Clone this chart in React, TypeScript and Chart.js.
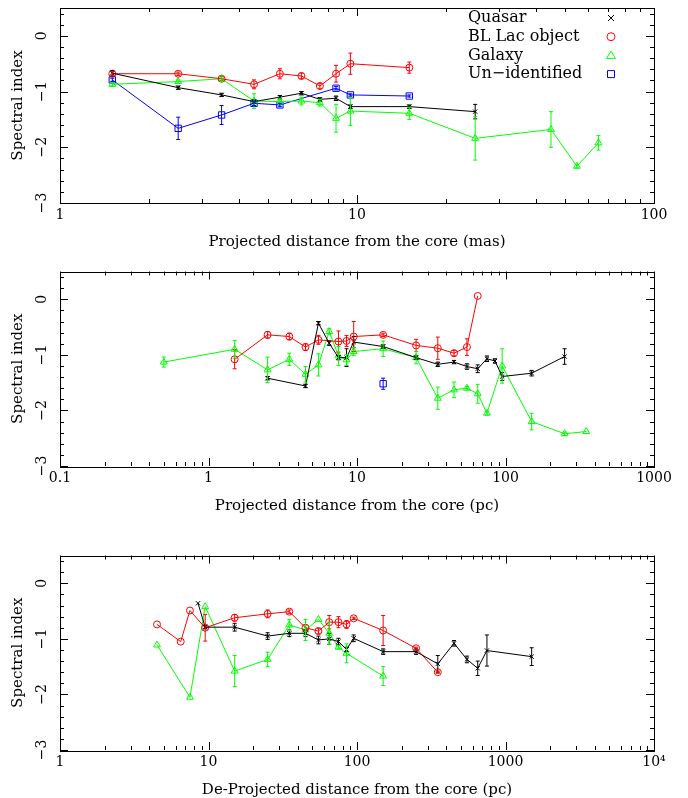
import React, { useEffect, useRef } from "react";
import { Chart, registerables } from "chart.js";

Chart.register(...registerables);

// ---------- Panel 1: projected distance (mas) ----------
const quasarMasX = [1.5, 2.5, 3.5, 4.5, 5.5, 6.5, 7.5, 8.5, 9.5, 15, 25];
const quasarMasY = [-0.67, -0.93, -1.06, -1.18, -1.1, -1.03, -1.14, -1.12, -1.27, -1.27, -1.36];
const quasarMasErr = [0.05, 0.03, 0.03, 0.03, 0.03, 0.03, 0.03, 0.04, 0.03, 0.03, 0.13];

const blLacMasX = [1.5, 2.5, 3.5, 4.5, 5.5, 6.5, 7.5, 8.5, 9.5, 15];
const blLacMasY = [-0.68, -0.68, -0.77, -0.87, -0.68, -0.72, -0.9, -0.68, -0.5, -0.57];
const blLacMasErr = [0.04, 0.03, 0.04, 0.08, 0.09, 0.05, 0.05, 0.15, 0.19, 0.1];

const galaxyMasX = [1.5, 2.5, 3.5, 4.5, 5.5, 6.5, 7.5, 8.5, 9.5, 15, 25, 45, 55, 65];
const galaxyMasY = [-0.87, -0.82, -0.77, -1.17, -1.18, -1.17, -1.2, -1.48, -1.35, -1.39, -1.84, -1.68, -2.34, -1.92];
const galaxyMasErr = [0.03, 0.03, 0.05, 0.13, 0.06, 0.07, 0.06, 0.25, 0.26, 0.11, 0.39, 0.32, 0.03, 0.13];

const unidMasX = [1.5, 2.5, 3.5, 4.5, 5.5, 8.5, 9.5, 15];
const unidMasY = [-0.79, -1.66, -1.42, -1.21, -1.24, -0.94, -1.06, -1.08];
const unidMasErr = [0.03, 0.2, 0.17, 0.04, 0.03, 0.03, 0.02, 0.02];

// ---------- Panel 2: projected distance (pc) ----------
const quasarPcX = [2.5, 4.5, 5.5, 6.5, 7.5, 8.5, 9.5, 15, 25, 35, 45, 55, 65, 75, 85, 95, 150, 250];
const quasarPcY = [-1.42, -1.56, -0.43, -0.79, -1.05, -1.05, -0.77, -0.85, -1.05, -1.17, -1.13, -1.21, -1.25, -1.07, -1.11, -1.39, -1.33, -1.03];
const quasarPcErr = [0.03, 0.03, 0.03, 0.04, 0.04, 0.16, 0.1, 0.03, 0.03, 0.04, 0.03, 0.05, 0.07, 0.05, 0.04, 0.07, 0.05, 0.14];

const blLacPcX = [1.5, 2.5, 3.5, 4.5, 5.5, 7.5, 8.5, 9.5, 15, 25, 35, 45, 55, 65];
const blLacPcY = [-1.08, -0.64, -0.67, -0.86, -0.73, -0.76, -0.75, -0.67, -0.64, -0.83, -0.88, -0.97, -0.86, 0.06];
const blLacPcErr = [0.17, 0.06, 0.06, 0.06, 0.08, 0.19, 0.1, 0.27, 0.03, 0.11, 0.2, 0.05, 0.15, 0];

const galaxyPcX = [0.5, 1.5, 2.5, 3.5, 4.5, 5.5, 6.5, 7.5, 8.5, 9.5, 15, 25, 35, 45, 55, 65, 75, 95, 150, 250, 350];
const galaxyPcY = [-1.13, -0.9, -1.27, -1.08, -1.35, -1.18, -0.58, -1.02, -1.09, -0.94, -0.89, -1.05, -1.78, -1.63, -1.6, -1.7, -2.05, -1.2, -2.2, -2.42, -2.38];
const galaxyPcErr = [0.09, 0.16, 0.23, 0.11, 0.14, 0.2, 0.05, 0.17, 0.1, 0.07, 0.14, 0.11, 0.2, 0.14, 0.03, 0.17, 0.03, 0.31, 0.15, 0.03, 0];

const unidPcX = [15];
const unidPcY = [-1.52];
const unidPcErr = [0.1];

// ---------- Panel 3: de-projected distance (pc) ----------
const quasarDpX = [8.5, 9.5, 15, 25, 35, 45, 55, 65, 75, 85, 95, 150, 250, 350, 450, 550, 650, 750, 1500];
const quasarDpY = [-0.36, -0.79, -0.79, -0.95, -0.9, -0.9, -1.02, -1.0, -1.05, -1.19, -0.99, -1.23, -1.23, -1.45, -1.08, -1.37, -1.53, -1.21, -1.32];
const quasarDpErr = [0, 0.03, 0.07, 0.06, 0.06, 0.06, 0.07, 0.1, 0.06, 0.04, 0.06, 0.05, 0.05, 0.15, 0.05, 0.06, 0.13, 0.28, 0.16];

const blLacDpX = [4.5, 6.5, 7.5, 9.5, 15, 25, 35, 45, 55, 65, 75, 85, 95, 150, 250, 350];
const blLacDpY = [-0.74, -1.05, -0.49, -0.8, -0.62, -0.55, -0.51, -0.8, -0.86, -0.7, -0.7, -0.74, -0.63, -0.85, -1.17, -1.6];
const blLacDpErr = [0, 0, 0, 0.24, 0.06, 0.07, 0.03, 0.05, 0.05, 0.12, 0.1, 0.07, 0.02, 0.27, 0.02, 0.02];

const galaxyDpX = [4.5, 7.5, 9.5, 15, 25, 35, 45, 55, 65, 75, 85, 150];
const galaxyDpY = [-1.11, -2.05, -0.42, -1.58, -1.37, -0.75, -0.84, -0.65, -0.9, -1.15, -1.26, -1.67];
const galaxyDpErr = [0, 0, 0, 0.28, 0.13, 0.1, 0.19, 0, 0.2, 0.03, 0.17, 0.17];

// ---------- axes ----------
const yTickValues = [-3, -2, -1, 0];
const masTickValues = [1, 10, 100];
const masTickLabels = ["1", "10", "100"];
const pcTickValues = [0.1, 1, 10, 100, 1000];
const pcTickLabels = ["0.1", "1", "10", "100", "1000"];
const dpTickValues = [1, 10, 100, 1000, 10000];
const dpTickLabels = ["1", "10", "100", "1000", "10\u2074"];

const legendLabels = ["Quasar", "BL Lac object", "Galaxy", "Un-identified"];

const BLACK = "#000000";
const RED = "#ff0000";
const GREEN = "#00ff00";
const BLUE = "#0000ff";
const FONT = "'DejaVu Serif', serif";

type Series = { label: string; color: string; style: string; radius: number; x: number[]; y: number[]; err: number[] };

const styles = [
  { color: BLACK, style: "crossRot", radius: 3 },
  { color: RED, style: "circle", radius: 3.5 },
  { color: GREEN, style: "triangle", radius: 4 },
  { color: BLUE, style: "rect", radius: 4.5 },
];

function mk(i: number, x: number[], y: number[], err: number[]): Series {
  return { label: legendLabels[i], ...styles[i], x, y, err };
}

type PanelSpec = {
  top: number;
  height: number;
  padTop: number;
  xAxisHeight: number;
  titlePad: number;
  xMin: number;
  xMax: number;
  xTicks: number[];
  xLabels: string[];
  xTitle: string;
  legend: boolean;
  series: Series[];
};

const panels: PanelSpec[] = [
  {
    top: 0, height: 262, padTop: 8, xAxisHeight: 59, titlePad: 12,
    xMin: 1, xMax: 100, xTicks: masTickValues, xLabels: masTickLabels,
    xTitle: "Projected distance from the core (mas)", legend: true,
    series: [
      mk(0, quasarMasX, quasarMasY, quasarMasErr),
      mk(1, blLacMasX, blLacMasY, blLacMasErr),
      mk(2, galaxyMasX, galaxyMasY, galaxyMasErr),
      mk(3, unidMasX, unidMasY, unidMasErr),
    ],
  },
  {
    top: 262, height: 266, padTop: 9.5, xAxisHeight: 62, titlePad: 14,
    xMin: 0.1, xMax: 1000, xTicks: pcTickValues, xLabels: pcTickLabels,
    xTitle: "Projected distance from the core (pc)", legend: false,
    series: [
      mk(0, quasarPcX, quasarPcY, quasarPcErr),
      mk(1, blLacPcX, blLacPcY, blLacPcErr),
      mk(2, galaxyPcX, galaxyPcY, galaxyPcErr),
      mk(3, unidPcX, unidPcY, unidPcErr),
    ],
  },
  {
    top: 528, height: 270, padTop: 27.5, xAxisHeight: 48, titlePad: 0,
    xMin: 1, xMax: 10000, xTicks: dpTickValues, xLabels: dpTickLabels,
    xTitle: "De-Projected distance from the core (pc)", legend: false,
    series: [
      mk(0, quasarDpX, quasarDpY, quasarDpErr),
      mk(1, blLacDpX, blLacDpY, blLacDpErr),
      mk(2, galaxyDpX, galaxyDpY, galaxyDpErr),
    ],
  },
];

const framePlugin = {
  id: "frame",
  afterDraw(chart: any) {
    const { ctx, chartArea } = chart;
    const { left, right, top, bottom } = chartArea;
    const xs = chart.scales.x;
    const ys = chart.scales.y;
    ctx.save();
    ctx.strokeStyle = "#000";
    ctx.lineWidth = 1;
    ctx.strokeRect(Math.round(left) + 0.5, Math.round(top) + 0.5, Math.round(right - left), Math.round(bottom - top));
    ctx.beginPath();
    const d0 = Math.floor(Math.log10(xs.min) + 1e-9);
    const d1 = Math.ceil(Math.log10(xs.max) - 1e-9);
    for (let d = d0; d <= d1; d++) {
      for (let m = 1; m <= 9; m++) {
        const v = m * Math.pow(10, d);
        if (v < xs.min * 0.999 || v > xs.max * 1.001) continue;
        const px = Math.round(xs.getPixelForValue(v)) + 0.5;
        const len = m === 1 ? 8 : 4;
        ctx.moveTo(px, bottom);
        ctx.lineTo(px, bottom - len);
        ctx.moveTo(px, top);
        ctx.lineTo(px, top + len);
      }
    }
    for (let k = -15; k <= 2; k++) {
      const v = k * 0.2;
      const py = Math.round(ys.getPixelForValue(v)) + 0.5;
      const major = k % 5 === 0;
      const len = major ? 8 : 4;
      ctx.moveTo(left, py);
      ctx.lineTo(left + len, py);
      ctx.moveTo(right, py);
      ctx.lineTo(right - len, py);
    }
    ctx.stroke();
    ctx.restore();
  },
};

const errorBarPlugin = {
  id: "errbars",
  afterDatasetsDraw(chart: any) {
    const { ctx, chartArea } = chart;
    const ys = chart.scales.y;
    ctx.save();
    ctx.beginPath();
    ctx.rect(chartArea.left, chartArea.top, chartArea.right - chartArea.left, chartArea.bottom - chartArea.top);
    ctx.clip();
    ctx.lineWidth = 1;
    chart.data.datasets.forEach((ds: any, i: number) => {
      const meta = chart.getDatasetMeta(i);
      ctx.strokeStyle = ds.borderColor;
      ctx.beginPath();
      meta.data.forEach((pt: any, j: number) => {
        const e = ds.errors[j];
        if (!e) return;
        const v = ds.data[j].y;
        const y1 = ys.getPixelForValue(v + e);
        const y2 = ys.getPixelForValue(v - e);
        ctx.moveTo(pt.x, y1);
        ctx.lineTo(pt.x, y2);
        ctx.moveTo(pt.x - 2, y1);
        ctx.lineTo(pt.x + 2, y1);
        ctx.moveTo(pt.x - 2, y2);
        ctx.lineTo(pt.x + 2, y2);
      });
      ctx.stroke();
    });
    ctx.restore();
  },
};

function drawSymbol(ctx: CanvasRenderingContext2D, style: string, x: number, y: number) {
  ctx.beginPath();
  if (style === "crossRot") {
    ctx.moveTo(x - 3, y - 3);
    ctx.lineTo(x + 3, y + 3);
    ctx.moveTo(x + 3, y - 3);
    ctx.lineTo(x - 3, y + 3);
  } else if (style === "circle") {
    ctx.arc(x, y, 4, 0, Math.PI * 2);
  } else if (style === "triangle") {
    ctx.moveTo(x, y - 4.5);
    ctx.lineTo(x + 4.5, y + 3);
    ctx.lineTo(x - 4.5, y + 3);
    ctx.closePath();
  } else {
    ctx.rect(x - 3.5, y - 3.5, 7, 7);
  }
  ctx.stroke();
}

const legendPlugin = {
  id: "symLegend",
  afterDraw(chart: any, _args: any, opts: any) {
    if (!opts || !opts.show) return;
    const { ctx, chartArea } = chart;
    ctx.save();
    ctx.font = "16px " + FONT;
    ctx.textBaseline = "middle";
    ctx.textAlign = "left";
    chart.data.datasets.forEach((ds: any, i: number) => {
      const y = chartArea.top + 10 + i * 18.7;
      ctx.fillStyle = "#000";
      ctx.fillText(ds.label.replace("-", "\u2212"), chartArea.right - 186, y);
      ctx.strokeStyle = ds.borderColor;
      ctx.lineWidth = 1;
      drawSymbol(ctx, ds.pointStyle, chartArea.right - 43, y);
    });
    ctx.restore();
  },
};

function Panel({ spec }: { spec: PanelSpec }) {
  const ref = useRef<HTMLCanvasElement>(null);
  useEffect(() => {
    if (!ref.current) return;
    const chart = new Chart(ref.current, {
      type: "scatter",
      data: {
        datasets: spec.series.map((s) => ({
          label: s.label,
          data: s.x.map((xv, i) => ({ x: xv, y: s.y[i] })),
          errors: s.err,
          borderColor: s.color,
          backgroundColor: "rgba(0,0,0,0)",
          pointBackgroundColor: "rgba(0,0,0,0)",
          pointBorderColor: s.color,
          pointStyle: s.style,
          pointRadius: s.radius,
          pointBorderWidth: 1,
          borderWidth: 1,
          showLine: true,
          fill: false,
          tension: 0,
        })) as any,
      },
      options: {
        animation: false,
        responsive: false,
        devicePixelRatio: 1,
        events: [],
        layout: { padding: { top: spec.padTop, right: 34, left: 0, bottom: 0 } },
        plugins: {
          legend: { display: false },
          tooltip: { enabled: false },
          symLegend: { show: spec.legend },
        } as any,
        scales: {
          x: {
            type: "logarithmic",
            min: spec.xMin,
            max: spec.xMax,
            grid: { display: false, drawTicks: false },
            border: { display: false },
            afterBuildTicks: (scale: any) => {
              scale.ticks = spec.xTicks.map((v) => ({ value: v }));
            },
            afterFit: (scale: any) => {
              scale.height = spec.xAxisHeight;
              scale.paddingLeft = 0;
              scale.paddingRight = 0;
            },
            ticks: {
              autoSkip: false,
              maxRotation: 0,
              minRotation: 0,
              padding: 4,
              color: "#000",
              font: { family: FONT, size: 14 },
              callback: (_v: any, idx: number) => spec.xLabels[idx],
            },
            title: {
              display: true,
              text: spec.xTitle,
              color: "#000",
              font: { family: FONT, size: 15, lineHeight: 1 },
              padding: { top: 0, bottom: spec.titlePad },
            },
          },
          y: {
            type: "linear",
            min: -3,
            max: 0.5,
            grid: { display: false, drawTicks: false },
            border: { display: false },
            afterBuildTicks: (scale: any) => {
              scale.ticks = yTickValues.map((v) => ({ value: v }));
            },
            afterFit: (scale: any) => {
              scale.width = 60;
              scale.paddingTop = 0;
              scale.paddingBottom = 0;
            },
            ticks: {
              autoSkip: false,
              minRotation: 90,
              maxRotation: 90,
              crossAlign: "center",
              padding: 7,
              color: "#000",
              font: { family: FONT, size: 14 },
              callback: (v: any) => (v === 0 ? "0" : "\u2212" + Math.abs(v)),
            },
            title: {
              display: true,
              text: "Spectral index",
              color: "#000",
              font: { family: FONT, size: 15, lineHeight: 1 },
              padding: { top: 11, bottom: 0 },
            },
          },
        },
      } as any,
      plugins: [errorBarPlugin, framePlugin, legendPlugin],
    });
    return () => chart.destroy();
  }, [spec]);
  return (
    <canvas
      ref={ref}
      width={688}
      height={spec.height}
      style={{ position: "absolute", left: 0, top: spec.top, width: 688, height: spec.height }}
    />
  );
}

export default function App() {
  return (
    <div style={{ position: "absolute", left: 0, top: 0, width: 688, height: 798, background: "#fff" }}>
      {panels.map((p, i) => (
        <Panel key={i} spec={p} />
      ))}
    </div>
  );
}
